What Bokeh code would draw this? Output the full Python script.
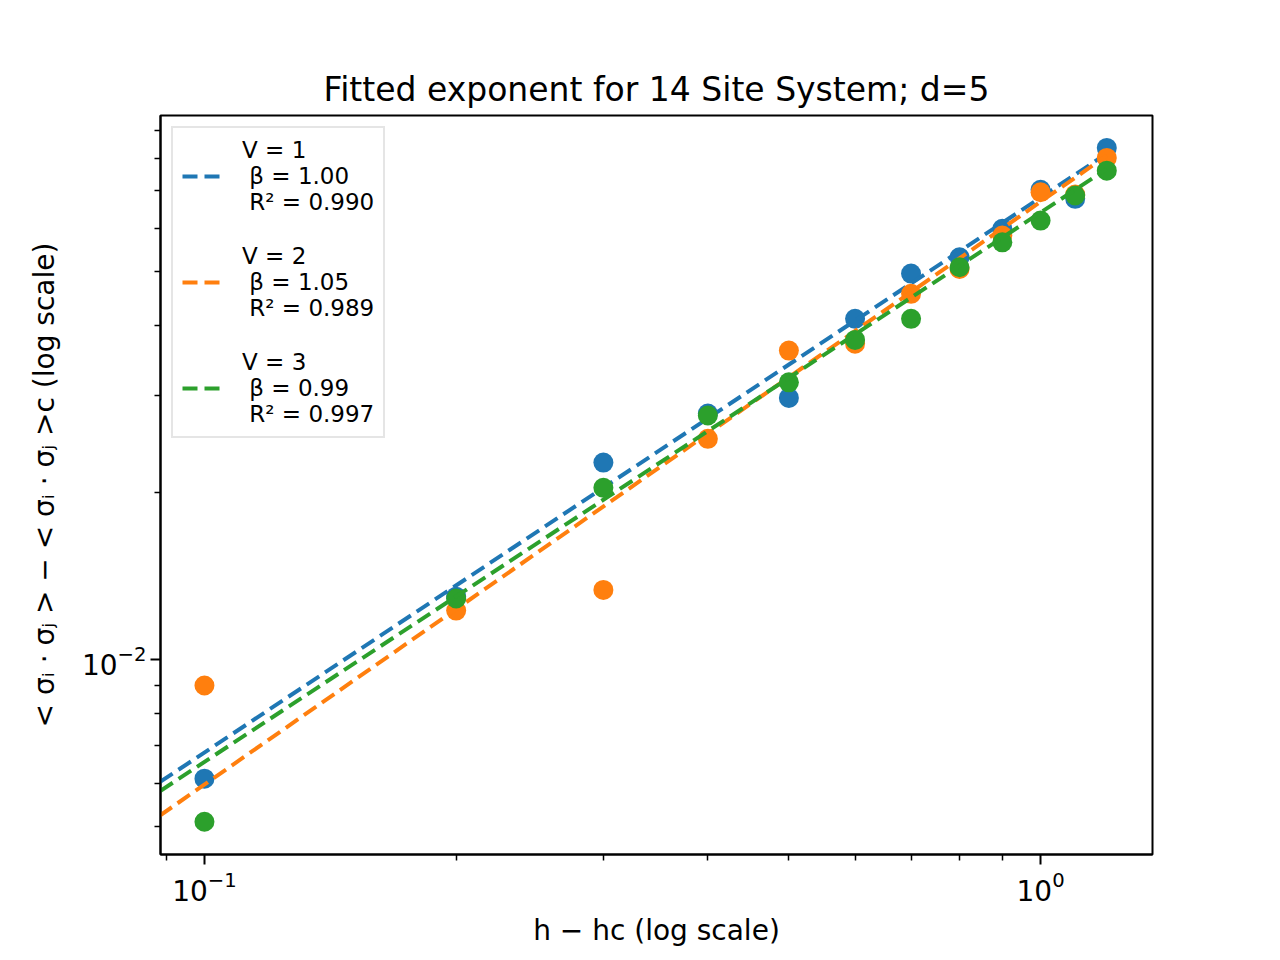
from bokeh.plotting import figure
from bokeh.models import Legend, LegendItem, FixedTicker, LogTickFormatter, Range1d
from bokeh.embed import file_html
from bokeh.resources import INLINE

# ---- data ----
h_vals = [0.1, 0.2, 0.3, 0.4, 0.5, 0.6, 0.7, 0.8, 0.9, 1.0, 1.1, 1.2]
corr_v1 = [0.00611, 0.01300, 0.02267, 0.02779, 0.02965, 0.04116,
           0.04966, 0.05313, 0.05980, 0.07030, 0.06772, 0.08366]
corr_v2 = [0.00899, 0.01227, 0.01337, 0.02502, 0.03608, 0.03714,
           0.04566, 0.05064, 0.05814, 0.06960, 0.06894, 0.08025]
corr_v3 = [0.00511, 0.01290, 0.02042, 0.02756, 0.03163, 0.03772,
           0.04116, 0.05098, 0.05654, 0.06188, 0.06866, 0.07612]
v_labels = ["V = 1", "V = 2", "V = 3"]
betas = [1.00, 1.05, 0.99]
amps = [0.0681, 0.0669, 0.0640]
r2s = [0.990, 0.989, 0.997]
fit_h = [0.08, 1.2]
colors = ["#1f77b4", "#ff7f0e", "#2ca02c"]

x_major_ticks = [0.1, 1.0]
x_minor_ticks = [0.09, 0.2, 0.3, 0.4, 0.5, 0.6, 0.7, 0.8, 0.9]
y_major_ticks = [0.01]
y_minor_ticks = [0.005, 0.006, 0.007, 0.008, 0.009,
                 0.02, 0.03, 0.04, 0.05, 0.06, 0.07, 0.08, 0.09]

FONT = "DejaVu Sans"

p = figure(
    x_axis_type="log", y_axis_type="log",
    x_range=Range1d(0.0886, 1.361), y_range=Range1d(0.00446, 0.0957),
    frame_width=992, frame_height=739,
    min_border_left=160, min_border_right=112,
    min_border_top=115, min_border_bottom=90,
    output_backend="svg", toolbar_location=None,
    title="Fitted exponent for 14 Site System; d=5",
    background_fill_color="white", border_fill_color="white",
)

p.title.align = "center"
p.title.text_font = FONT
p.title.text_font_size = "33px"
p.title.text_font_style = "normal"
p.title.text_color = "black"
p.title.standoff = 14

p.xgrid.visible = False
p.ygrid.visible = False
p.outline_line_color = "black"
p.outline_line_width = 2

p.xaxis.ticker = FixedTicker(ticks=x_major_ticks, minor_ticks=x_minor_ticks)
p.yaxis.ticker = FixedTicker(ticks=y_major_ticks, minor_ticks=y_minor_ticks)

for ax in (p.xaxis[0], p.yaxis[0]):
    ax.formatter = LogTickFormatter()
    ax.axis_line_color = "black"
    ax.axis_line_width = 2
    ax.major_tick_line_width = 2
    ax.minor_tick_line_width = 1.5
    ax.major_tick_out = 10
    ax.major_tick_in = 0
    ax.minor_tick_out = 6
    ax.minor_tick_in = 0
    ax.major_label_text_font = FONT
    ax.major_label_text_font_size = "28px"
    ax.major_label_text_color = "black"
    ax.axis_label_text_font = FONT
    ax.axis_label_text_font_size = "28px"
    ax.axis_label_text_font_style = "normal"
    ax.axis_label_text_color = "black"

p.xaxis.axis_label = "h − hc (log scale)"
p.yaxis.axis_label = "< σᵢ · σⱼ > − < σᵢ · σⱼ >c (log scale)"
p.xaxis.major_label_standoff = 6
p.yaxis.major_label_standoff = 4
p.xaxis.axis_label_standoff = 10
p.yaxis.axis_label_standoff = 18

series = [corr_v1, corr_v2, corr_v3]
items = []
for vals, lab, beta, amp, r2, col in zip(series, v_labels, betas, amps, r2s, colors):
    p.scatter(h_vals, vals, size=20, fill_color=col, line_color=col, line_width=0)
    fit_y = [amp * x ** beta for x in fit_h]
    ln = p.line(fit_h, fit_y, line_color=col, line_width=4, line_dash="15 7")
    label = f"{lab}\n β = {beta:.2f}\n R² = {r2:.3f}"
    items.append(LegendItem(label=label, renderers=[ln]))

legend = Legend(items=items, location="top_left")
legend.label_text_font = FONT
legend.label_text_font_size = "23px"
legend.label_text_color = "black"
legend.glyph_width = 38
legend.glyph_height = 20
legend.label_standoff = 22
legend.padding = 9
legend.spacing = 28
legend.margin = 11
legend.border_line_color = "#cccccc"
legend.border_line_width = 2
legend.background_fill_alpha = 0.8
p.add_layout(legend)

open("out.html", "w").write(file_html(p, INLINE))
